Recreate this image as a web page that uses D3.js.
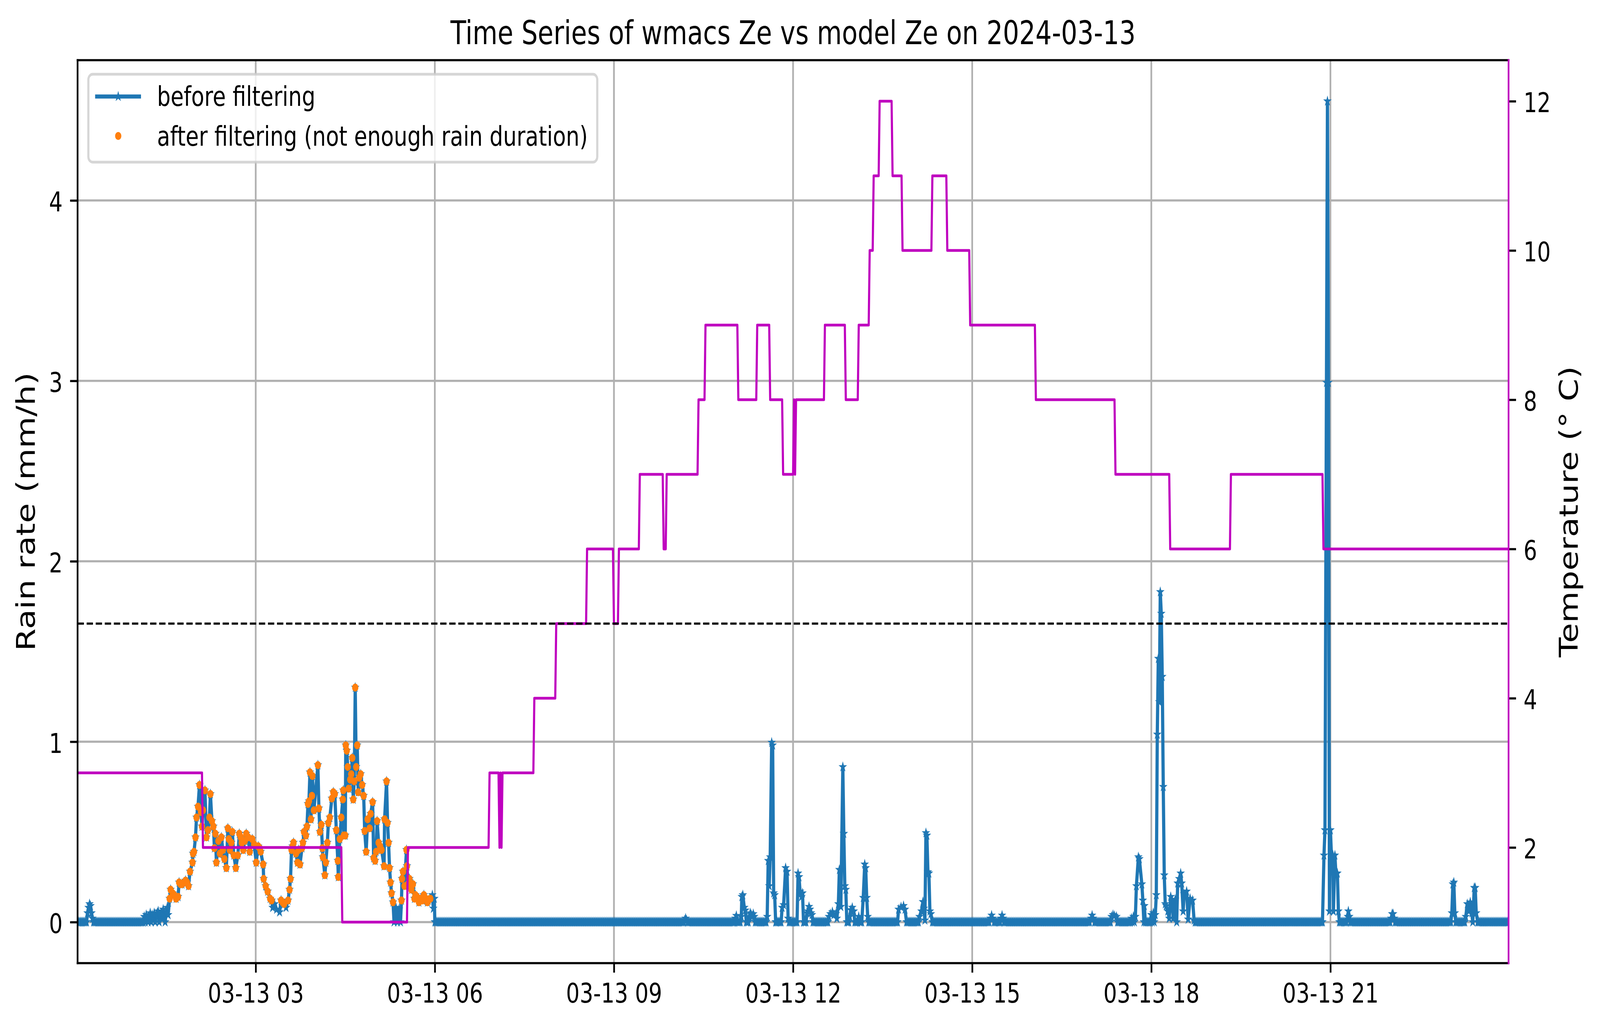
<!DOCTYPE html>
<html><head><meta charset="utf-8">
<script src="https://cdn.jsdelivr.net/npm/d3@7"></script>
<style>html,body{margin:0;padding:0;background:#fff;width:100%;height:100%;overflow:hidden;} svg{display:block;width:100vw;height:100vh;}</style>
</head><body>
<svg id="chart" viewBox="0 0 5197 2631" preserveAspectRatio="none"></svg>
<script>
// ---------------- DATA ----------------
const chartTitle = "Time Series of wmacs Ze vs model Ze on 2024-03-13";
const dayUTC = [2024, 2, 13];
const xTickHours = [3, 6, 9, 12, 15, 18, 21];
const rainTicks = [0, 1, 2, 3, 4];
const tempTicks = [2, 4, 6, 8, 10, 12];
const tempThreshold = 5;
const legendLabels = ["before filtering", "after filtering (not enough rain duration)"];

// runs of one-minute samples that are all zero rain
const rainZeroRuns = [
  ["00:01","00:10"],["00:17","01:07"],["06:00","10:10"],["10:14","11:01"],["11:05","11:07"],
  ["11:13","11:15"],["11:22","11:33"],["11:43","11:48"],["11:56","12:04"],["12:11","12:13"],
  ["12:20","12:35"],["12:54","12:56"],["13:02","13:05"],["13:07","13:09"],["13:16","13:45"],
  ["13:54","14:06"],["14:20","15:17"],["15:22","15:28"],["15:32","16:58"],["17:03","17:19"],
  ["17:26","17:39"],["17:54","17:59"],["18:44","20:52"],["21:09","21:16"],["21:20","22:00"],
  ["22:05","23:01"],["23:06","23:15"],["23:28","23:59"]
];

// [time, rain rate mm/h, kept after filtering (1) or not (0)]
const rainPoints = [
  ["00:11",0.05,0],["00:12",0.08,0],["00:13",0.10,0],["00:14",0.09,0],["00:15",0.05,0],["00:16",0.02,0],
  ["01:08",0.03,0],["01:09",0,0],["01:10",0.04,0],["01:11",0.02,0],["01:12",0,0],["01:13",0.03,0],
  ["01:14",0.05,0],["01:15",0,0],["01:16",0.04,0],["01:17",0.02,0],["01:18",0.05,0],["01:19",0,0],
  ["01:20",0.03,0],["01:21",0.05,0],["01:22",0.06,0],["01:23",0,0],["01:24",0.04,0],["01:25",0.05,0],
  ["01:26",0.02,0],["01:27",0.07,0],["01:28",0.04,0],["01:29",0,0],["01:30",0.05,0],["01:31",0.08,0],
  ["01:32",0.04,0],
  ["01:33:30",0.13,1],["01:34:30",0.18,1],["01:36:30",0.16,1],["01:38",0.15,1],["01:40",0.13,1],
  ["01:42",0.14,1],["01:43",0.22,1],["01:44:30",0.21,1],["01:46",0.21,1],["01:48",0.22,1],
  ["01:49:30",0.23,1],["01:51",0.22,1],["01:52:30",0.20,1],["01:54",0.28,1],["01:56:30",0.33,1],
  ["01:57",0.38,1],["01:58",0.39,1],["01:59:30",0.47,1],["02:00:30",0.58,1],["02:02",0.64,1],
  ["02:03:30",0.76,1],["02:05",0.61,1],["02:06",0.53,1],["02:07",0.62,1],["02:09",0.73,1],
  ["02:10:30",0.47,1],["02:12",0.51,1],["02:13:30",0.58,1],["02:14:30",0.71,1],["02:16",0.56,1],
  ["02:17:30",0.53,1],["02:18:30",0.41,1],["02:19:30",0.49,1],["02:20:30",0.33,1],["02:22:30",0.45,1],
  ["02:24",0.38,1],["02:25:30",0.47,1],["02:27",0.40,1],["02:28:30",0.35,1],["02:30:30",0.30,1],
  ["02:32",0.52,1],["02:33",0.46,1],["02:34",0.40,1],["02:35:30",0.44,1],["02:36:30",0.50,1],
  ["02:38",0.37,1],["02:40",0.30,1],["02:42",0.37,1],["02:43:30",0.49,1],["02:45",0.47,1],
  ["02:46",0.44,1],["02:47:30",0.40,1],["02:49",0.45,1],["02:50:30",0.49,1],["02:52:30",0.47,1],
  ["02:54",0.39,1],["02:56:30",0.46,1],["02:58:30",0.43,1],["03:00:30",0.33,1],["03:02:30",0.42,1],
  ["03:04",0.41,1],["03:05",0.39,1],["03:07:30",0.32,1],["03:08",0.24,1],["03:10",0.20,1],
  ["03:12",0.17,1],["03:14:30",0.13,1],["03:16",0.12,1],["03:17",0.08,0],["03:19",0.10,0],
  ["03:21",0.07,0],["03:24",0.055,0],["03:25:30",0.12,1],["03:27",0.11,1],["03:28:30",0.10,1],
  ["03:30:30",0.08,0],["03:32:30",0.12,1],["03:34",0.18,1],["03:35",0.24,1],["03:36",0.40,1],
  ["03:37",0.42,1],["03:38",0.44,1],["03:40:30",0.38,1],["03:42",0.33,1],["03:43",0.40,1],
  ["03:44:30",0.32,1],["03:46:30",0.41,1],["03:47:30",0.44,1],["03:48:30",0.50,1],["03:50:30",0.48,1],
  ["03:51:30",0.53,1],["03:52:30",0.655,1],["03:53:30",0.67,1],["03:54:30",0.83,1],["03:55:30",0.57,1],
  ["03:56:30",0.70,1],["03:57",0.81,1],["03:58:30",0.62,1],["04:02:30",0.87,1],["04:03:30",0.63,1],
  ["04:04:30",0.50,1],["04:06",0.54,1],["04:07",0.41,1],["04:07:30",0.36,1],["04:09:30",0.26,1],
  ["04:10:30",0.33,1],["04:12",0.44,1],["04:13",0.55,1],["04:14:30",0.58,1],["04:16:30",0.685,1],
  ["04:18",0.72,1],["04:19:30",0.71,1],["04:21",0.51,1],["04:22:30",0.34,1],["04:23",0.25,1],
  ["04:24:30",0.46,1],["04:26",0.58,1],["04:27:30",0.68,1],["04:28",0.73,1],["04:28:30",0.48,1],
  ["04:30",0.48,1],["04:30:30",0.98,1],["04:31:30",0.95,1],["04:32:30",0.86,1],["04:33:30",0.74,1],
  ["04:35",0.79,1],["04:36",0.82,1],["04:37",0.91,1],["04:38",0.68,1],["04:39",0.78,1],
  ["04:40",1.30,1],["04:41",0.86,1],["04:42",0.98,1],["04:43",0.72,1],["04:44",0.80,1],
  ["04:45:30",0.82,1],["04:47",0.76,1],["04:48:30",0.70,1],["04:49:30",0.505,1],["04:51",0.39,1],
  ["04:52:30",0.57,1],["04:54:30",0.52,1],["04:55:30",0.60,1],["04:57:30",0.665,1],["04:58:30",0.355,1],
  ["05:00",0.34,1],["05:01",0.39,1],["05:02",0.56,1],["05:03:30",0.44,1],["05:05",0.42,1],
  ["05:06:30",0.40,1],["05:09",0.31,1],["05:09:30",0.57,1],["05:11:30",0.78,1],["05:12:30",0.55,1],
  ["05:13:30",0.44,1],["05:14:30",0.30,1],["05:15:30",0.22,1],["05:16:30",0.16,1],["05:18",0.11,1],
  ["05:19",0,0],["05:21",0.08,0],["05:22:30",0,0],["05:24",0.07,0],["05:25:30",0,0],
  ["05:26:30",0.12,1],["05:27",0.24,1],["05:28",0.28,1],["05:29:30",0.20,1],["05:31:30",0.40,1],
  ["05:32",0.31,1],["05:33",0.21,1],["05:34:30",0.24,1],["05:36:30",0.18,1],["05:38",0.21,1],
  ["05:39:30",0.13,1],["05:40:30",0.15,1],["05:42",0.14,1],["05:44",0.11,1],["05:46",0.13,1],
  ["05:47:30",0.12,1],["05:49",0.15,1],["05:51",0.13,1],["05:52:30",0.11,1],["05:53:30",0.12,1],
  ["05:55:30",0.13,1],["05:57:30",0.15,0],["05:58:30",0.075,0],["05:59:30",0.13,0],
  ["10:11",0.01,0],["10:12",0.02,0],["10:13",0.01,0],
  ["11:02",0.02,0],["11:03",0.035,0],["11:04",0,0],
  ["11:08",0.03,0],["11:08:30",0.14,0],["11:09:30",0.15,0],["11:11",0.08,0],["11:12",0.065,0],
  ["11:16",0.03,0],["11:17",0.05,0],["11:18",0.04,0],["11:19",0.03,0],["11:20",0.045,0],["11:21",0.03,0],
  ["11:34",0.03,0],["11:35",0.34,0],["11:36",0.20,0],["11:37",0.36,0],["11:38:30",0.995,0],
  ["11:39:30",0.98,0],["11:40:30",0.16,0],["11:41:30",0.15,0],["11:42:30",0,0],
  ["11:49",0.08,0],["11:50:30",0.095,0],["11:52:30",0.30,0],["11:54",0.28,0],["11:55",0.02,0],
  ["12:05",0.27,0],["12:06",0.25,0],["12:07",0.17,0],["12:08:30",0.14,0],["12:09:30",0.16,0],["12:10:30",0,0],
  ["12:14",0.05,0],["12:15",0.06,0],["12:16",0.085,0],["12:17",0.07,0],["12:18",0.05,0],["12:19",0.04,0],
  ["12:36",0.03,0],["12:37:30",0.045,0],["12:39:30",0.056,0],["12:41",0.04,0],["12:43",0.045,0],
  ["12:44",0.02,0],["12:45:30",0.10,0],["12:46:30",0.29,0],["12:48",0.085,0],["12:50",0.86,0],
  ["12:51",0.49,0],["12:52",0.20,0],["12:53",0.18,0],
  ["12:57",0.03,0],["12:58",0.067,0],["12:59:30",0.08,0],["13:01",0.06,0],["13:06",0.03,0],
  ["13:10:30",0.135,0],["13:12",0.32,0],["13:13",0.30,0],["13:14",0.135,0],["13:15",0.03,0],
  ["13:46",0.07,0],["13:48:30",0.083,0],["13:51",0.09,0],["13:52:30",0.07,0],
  ["14:07",0.03,0],["14:09",0.06,0],["14:10:30",0.112,0],["14:11:30",0.075,0],["14:12:30",0.01,0],
  ["14:13:30",0.494,0],["14:14:30",0.48,0],["14:15:30",0.277,0],["14:16:30",0.27,0],
  ["14:17:30",0.06,0],["14:18:30",0.045,0],
  ["15:18:30",0.02,0],["15:19:30",0.037,0],["15:20:30",0.02,0],
  ["15:29",0.02,0],["15:30",0.037,0],["15:31",0.02,0],
  ["16:59:30",0.02,0],["17:00:30",0.037,0],["17:01:30",0.02,0],
  ["17:20",0.03,0],["17:21:30",0.04,0],["17:23",0.035,0],["17:25",0.03,0],
  ["17:40",0.02,0],["17:41",0,0],["17:42",0.03,0],["17:43",0,0],["17:44",0.03,0],["17:45",0.20,0],
  ["17:47",0.36,0],["17:48",0.35,0],["17:50:30",0.21,0],["17:51:30",0.12,0],["17:52:30",0,0],["17:53",0.09,0],
  ["18:00",0.04,0],["18:01",0,0],["18:02",0.05,0],["18:03",0,0],["18:04",0.04,0],["18:05",0.15,0],
  ["18:06",1.04,0],["18:07",1.46,0],["18:08",1.22,0],["18:09",1.83,0],["18:10",1.71,0],["18:11",1.36,0],
  ["18:12",0.75,0],["18:13",0.26,0],["18:14",0.10,0],["18:15",0.09,0],["18:16:30",0.06,0],["18:18",0.02,0],
  ["18:19:30",0.14,0],["18:21",0.12,0],["18:22",0.02,0],["18:24",0.125,0],["18:25:30",0,0],
  ["18:26:30",0.215,0],["18:28",0.24,0],["18:29:30",0.27,0],["18:30:30",0.215,0],["18:32",0.06,0],
  ["18:33",0.155,0],["18:35:30",0.17,0],["18:37",0.015,0],["18:39",0.13,0],["18:41:30",0.12,0],["18:43",0.01,0],
  ["20:53:30",0.37,0],["20:54:30",0.51,0],["20:56",2.99,0],["20:57",4.55,0],["20:58",2.99,0],
  ["20:59",0.06,0],["21:00",0.51,0],["21:01",0.37,0],["21:02:30",0.37,0],["21:03",0.06,0],
  ["21:04:30",0.37,0],["21:05:30",0.27,0],["21:07",0.27,0],["21:08",0.06,0],
  ["21:17:30",0.03,0],["21:18",0.06,0],["21:19",0.03,0],
  ["22:01",0.02,0],["22:02",0.045,0],["22:03",0.045,0],["22:04",0.02,0],
  ["23:02",0.05,0],["23:03",0.21,0],["23:04",0.22,0],["23:05",0.05,0],
  ["23:16",0.03,0],["23:17:30",0.10,0],["23:19",0.06,0],["23:20:30",0.11,0],["23:22",0.05,0],
  ["23:23",0,0],["23:24:30",0.19,0],["23:25:30",0.19,0],["23:26:30",0.05,0]
];

// temperature (deg C) held constant over each run of one-minute samples
const tempRuns = [
  ["00:01","02:06",3],["02:07","04:26",2],["04:27","05:32",1],["05:33","06:54",2],["06:55","07:04",3],
  ["07:05","07:05",2],["07:06","07:06",3],["07:07","07:07",2],["07:08","07:39",3],["07:40","08:01",4],
  ["08:02","08:32",5],["08:33","08:59",6],["09:00","09:04",5],["09:05","09:25",6],["09:26","09:49",7],
  ["09:50","09:52",6],["09:53","10:24",7],["10:25","10:31",8],["10:32","11:04",9],["11:05","11:23",8],
  ["11:24","11:36",9],["11:37","11:49",8],["11:50","12:00",7],["12:01","12:01",8],["12:02","12:02",7],
  ["12:03","12:31",8],["12:32","12:52",9],["12:53","13:05",8],["13:06","13:16",9],["13:17","13:20",10],
  ["13:21","13:26",11],["13:27","13:39",12],["13:40","13:49",11],["13:50","14:19",10],["14:20","14:34",11],
  ["14:35","14:57",10],["14:58","16:03",9],["16:04","17:23",8],["17:24","18:18",7],["18:19","19:19",6],
  ["19:20","20:52",7],["20:53","23:59",6]
];

// ---------------- BUILD ----------------
const parseT = s => { const p = s.split(":").map(Number); return new Date(Date.UTC(dayUTC[0], dayUTC[1], dayUTC[2], p[0], p[1], p[2] || 0)); };

const rainMap = new Map();
rainZeroRuns.forEach(([a, b]) => {
  for (let t = +parseT(a); t <= +parseT(b); t += 60000) rainMap.set(t, {t: new Date(t), v: 0, k: 0});
});
rainPoints.forEach(([s, v, k]) => { const t = +parseT(s); rainMap.set(t, {t: new Date(t), v: v, k: k}); });
const rain = Array.from(rainMap.values()).sort((a, b) => a.t - b.t);
const kept = rain.filter(d => d.k === 1);

const temp = [];
tempRuns.forEach(([a, b, v]) => {
  temp.push({t: parseT(a), v: v});
  if (b !== a) temp.push({t: parseT(b), v: v});
});

// ---------------- LAYOUT ----------------
const PT = 500 / 72;
const W = 5197, H = 2631;
const M = {left: 252, right: 4900, top: 154, bottom: 2465};
const FONT = "DejaVu Sans, Liberation Sans, sans-serif";
const C = {blue: "#1f77b4", orange: "#ff7f0e", mag: "#bf00bf", grid: "#b0b0b0"};

const svg = d3.select("#chart").attr("font-family", FONT);
svg.append("rect").attr("width", W).attr("height", H).attr("fill", "#fff");

const allT = rain.map(d => d.t).concat(temp.map(d => d.t));
const x = d3.scaleUtc().domain(d3.extent(allT)).range([M.left, M.right]);

const rMax = d3.max(rain, d => d.v), rMin = d3.min(rain, d => d.v);
const rPad = (rMax - rMin) * 0.05;
const yR = d3.scaleLinear().domain([rMin - rPad, rMax + rPad]).range([M.bottom, M.top]);

const tMax = d3.max(temp, d => d.v), tMin = d3.min(temp, d => d.v);
const tPad = (tMax - tMin) * 0.05;
const yT = d3.scaleLinear().domain([tMin - tPad, tMax + tPad]).range([M.bottom, M.top]);

svg.append("defs").append("clipPath").attr("id", "plotclip")
  .append("rect").attr("x", M.left).attr("y", M.top)
  .attr("width", M.right - M.left).attr("height", M.bottom - M.top);

// grid
const xTicks = xTickHours.map(h => new Date(Date.UTC(dayUTC[0], dayUTC[1], dayUTC[2], h)));
const grid = svg.append("g").attr("stroke", C.grid).attr("stroke-width", 0.8 * PT);
grid.selectAll(".gx").data(xTicks).join("line")
  .attr("x1", d => x(d)).attr("x2", d => x(d)).attr("y1", M.top).attr("y2", M.bottom);
grid.selectAll(".gy").data(rainTicks).join("line")
  .attr("x1", M.left).attr("x2", M.right).attr("y1", d => yR(d)).attr("y2", d => yR(d));

const plot = svg.append("g").attr("clip-path", "url(#plotclip)");

// rain line + star markers
plot.append("path").datum(rain)
  .attr("d", d3.line().x(d => x(d.t)).y(d => yR(d.v)))
  .attr("fill", "none").attr("stroke", C.blue).attr("stroke-width", 1.5 * PT)
  .attr("stroke-linejoin", "round").attr("stroke-linecap", "square");
const star = d3.symbol(d3.symbolStar, 121)();
plot.append("g").selectAll("path").data(rain).join("path")
  .attr("d", star).attr("transform", d => `translate(${x(d.t)},${yR(d.v)})`)
  .attr("fill", C.blue).attr("stroke", C.blue).attr("stroke-width", 2.5);

// kept points
plot.append("g").selectAll("circle").data(kept).join("circle")
  .attr("cx", d => x(d.t)).attr("cy", d => yR(d.v)).attr("r", 10.2).attr("fill", C.orange);

// temperature
plot.append("path").datum(temp)
  .attr("d", d3.line().x(d => x(d.t)).y(d => yT(d.v)))
  .attr("fill", "none").attr("stroke", C.mag).attr("stroke-width", 1.0 * PT)
  .attr("stroke-linejoin", "round").attr("stroke-linecap", "square");

// threshold
plot.append("line").attr("x1", M.left).attr("x2", M.right)
  .attr("y1", yT(tempThreshold)).attr("y2", yT(tempThreshold))
  .attr("stroke", "#000").attr("stroke-width", 0.8 * PT)
  .attr("stroke-dasharray", `${2.96 * PT} ${1.28 * PT}`);

// axes
function styleAxis(g) {
  g.select(".domain").remove();
  g.selectAll(".tick line").attr("stroke", "#000").attr("stroke-width", 0.8 * PT);
  g.selectAll(".tick text").attr("fill", "#000").attr("font-size", 10 * PT).attr("font-family", FONT);
}
const tickLen = 3.5 * PT;
svg.append("g").attr("transform", `translate(0,${M.bottom})`)
  .call(d3.axisBottom(x).tickValues(xTicks).tickFormat(d3.utcFormat("%m-%d %H")).tickSize(tickLen).tickPadding(27))
  .call(styleAxis);
svg.append("g").attr("transform", `translate(${M.left},0)`)
  .call(d3.axisLeft(yR).tickValues(rainTicks).tickFormat(d3.format("d")).tickSize(tickLen).tickPadding(tickLen))
  .call(styleAxis).call(g => g.selectAll(".tick text").attr("dy", "0.40em"));
svg.append("g").attr("transform", `translate(${M.right},0)`)
  .call(d3.axisRight(yT).tickValues(tempTicks).tickFormat(d3.format("d")).tickSize(tickLen).tickPadding(tickLen))
  .call(styleAxis).call(g => g.selectAll(".tick text").attr("dy", "0.40em"));

// spines
const sp = svg.append("g").attr("stroke-width", 0.8 * PT).attr("stroke-linecap", "square");
sp.append("line").attr("x1", M.left).attr("x2", M.left).attr("y1", M.top).attr("y2", M.bottom).attr("stroke", "#000");
sp.append("line").attr("x1", M.left).attr("x2", M.right).attr("y1", M.top).attr("y2", M.top).attr("stroke", "#000");
sp.append("line").attr("x1", M.left).attr("x2", M.right).attr("y1", M.bottom).attr("y2", M.bottom).attr("stroke", "#000");
sp.append("line").attr("x1", M.right).attr("x2", M.right).attr("y1", M.top).attr("y2", M.bottom).attr("stroke", C.mag);

// title & labels
svg.append("text").attr("x", (M.left + M.right) / 2).attr("y", 113)
  .attr("text-anchor", "middle").attr("font-size", 12 * PT).attr("fill", "#000").text(chartTitle);
svg.append("text").attr("transform", `translate(113,${(M.top + M.bottom) / 2}) rotate(-90)`)
  .attr("text-anchor", "middle").attr("font-size", 12 * PT).attr("fill", "#000").text("Rain rate (mm/h)");
svg.append("text").attr("transform", `translate(5125,${(M.top + M.bottom) / 2}) rotate(-90)`)
  .attr("text-anchor", "middle").attr("font-size", 12 * PT).attr("fill", "#000").text("Temperature (° C)");

// legend
const lg = svg.append("g");
lg.append("rect").attr("x", 287).attr("y", 190).attr("width", 1653).attr("height", 225).attr("rx", 14)
  .attr("fill", "#fff").attr("fill-opacity", 0.8).attr("stroke", "#cccccc").attr("stroke-opacity", 0.8)
  .attr("stroke-width", 1.0 * PT);
lg.append("line").attr("x1", 309).attr("x2", 458).attr("y1", 247).attr("y2", 247)
  .attr("stroke", C.blue).attr("stroke-width", 1.5 * PT);
lg.append("path").attr("d", star).attr("transform", "translate(384,247)")
  .attr("fill", C.blue).attr("stroke", C.blue).attr("stroke-width", 2.5);
lg.append("circle").attr("cx", 384).attr("cy", 348).attr("r", 10.2).attr("fill", C.orange);
lg.append("text").attr("x", 510).attr("y", 271).attr("font-size", 10 * PT).attr("fill", "#000").text(legendLabels[0]);
lg.append("text").attr("x", 510).attr("y", 373).attr("font-size", 10 * PT).attr("fill", "#000").text(legendLabels[1]);
</script>
</body></html>
